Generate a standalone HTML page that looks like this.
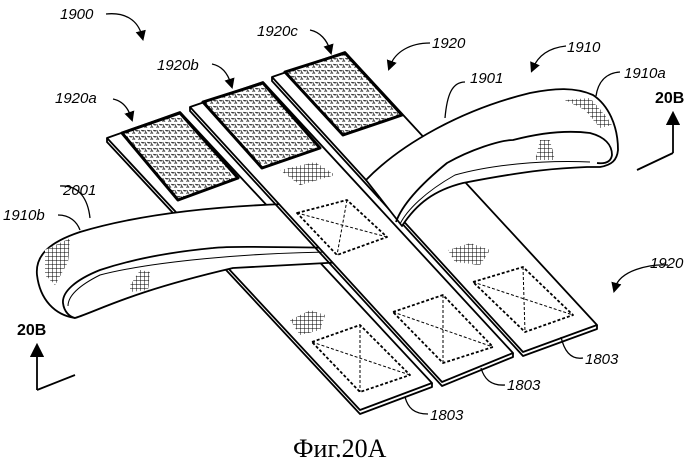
<!DOCTYPE html>
<html><head><meta charset="utf-8"><style>
html,body{margin:0;padding:0;background:#fff;}
svg{display:block}
.l{font-family:"Liberation Sans",sans-serif;font-style:italic;font-size:15px;fill:#000}
.b{font-family:"Liberation Sans",sans-serif;font-weight:bold;font-size:16px;fill:#000}
</style></head><body>
<svg width="699" height="468" viewBox="0 0 699 468" xmlns="http://www.w3.org/2000/svg">
<defs>
<pattern id="velcro" width="6" height="6" patternUnits="userSpaceOnUse">
<rect width="6" height="6" fill="#fff"/>
<path d="M0.5 1.5 q1.5 -1.5 2.5 0 M3.5 4 q1 1.5 2.5 0.5 M0.5 4.5 l1.5 1" stroke="#000" stroke-width="1" fill="none"/>
</pattern>
<pattern id="hatch" width="4" height="4" patternUnits="userSpaceOnUse">
<rect width="4" height="4" fill="#fff"/>
<path d="M0 0 H4 M0 0 V4" stroke="#000" stroke-width="1"/>
</pattern>
<marker id="ah" markerWidth="8" markerHeight="8" refX="4" refY="4" orient="auto">
<path d="M0 0 L8 4 L0 8 z" fill="#000"/>
</marker>
</defs>
<g stroke="#000" stroke-width="1.8" fill="#fff" stroke-linejoin="round">
<!-- Strip A -->
<polygon points="107,138 180,112 432,383 360,410"/>
<path d="M107,138 L107,142 L360,414 L432,387 L432,383" fill="none"/>
<polygon points="122,133 180,113 238,178 178,200" fill="url(#velcro)" stroke-width="3"/>
<polygon points="312,342 360,325 410,375 360,392" fill="none" stroke-dasharray="3,2"/>
<path d="M312,342 L410,375 M360,325 L360,392" fill="none" stroke-dasharray="3,2" stroke-width="1"/>
<polygon points="290,320 310,310 325,315 320,330 300,335" fill="url(#hatch)" stroke="none"/>
<polygon points="215,225 225,218 255,250 245,255" fill="url(#hatch)" stroke="none"/>
</g>
<!-- left band -->
<g stroke="#000" stroke-width="1.8" fill="#fff" stroke-linejoin="round">
<path d="M285,204 C200,207 130,217 80,232 C50,242 35,255 37,275 C40,300 55,315 75,318 C100,310 130,292 233,268 L345,262 L345,246 Z"/>
<path d="M345,248 C270,247 230,246 213,248 C170,252 130,260 100,270 C75,280 62,292 63,303 C64,312 70,317 75,318" fill="none"/>
<path d="M345,252 C250,252 150,262 100,275 C80,285 68,295 68,306" fill="none" stroke-width="1"/>
<polygon points="45,250 70,238 68,262 55,285 45,275" fill="url(#hatch)" stroke="none"/>
<polygon points="130,285 140,270 150,272 148,290 130,292" fill="url(#hatch)" stroke="none"/>
</g>
<!-- Strip B -->
<g stroke="#000" stroke-width="1.8" fill="#fff" stroke-linejoin="round">
<polygon points="190,107 263,82 513,353 442,382"/>
<path d="M190,107 L190,111 L442,386 L513,357 L513,353" fill="none"/>
<polygon points="203,102 263,83 320,148 262,168" fill="url(#velcro)" stroke-width="3"/>
<polygon points="297,213 347,200 387,237 337,255" fill="none" stroke-dasharray="3,2"/>
<path d="M297,213 L387,237 M347,200 L337,255" fill="none" stroke-dasharray="3,2" stroke-width="1"/>
<polygon points="393,312 443,295 493,347 443,363" fill="none" stroke-dasharray="3,2"/>
<path d="M393,312 L493,347 M443,295 L443,363" fill="none" stroke-dasharray="3,2" stroke-width="1"/>
<polygon points="280,170 315,162 335,175 300,185" fill="url(#hatch)" stroke="none"/>
<!-- Strip C -->
<polygon points="272,77 345,52 597,325 523,352"/>
<path d="M272,77 L272,81 L523,356 L597,329 L597,325" fill="none"/>
<polygon points="285,72 345,53 402,115 343,135" fill="url(#velcro)" stroke-width="3"/>
<polygon points="473,282 523,267 573,315 525,332" fill="none" stroke-dasharray="3,2"/>
<path d="M473,282 L573,315 M523,267 L525,332" fill="none" stroke-dasharray="3,2" stroke-width="1"/>
<polygon points="448,250 470,243 490,250 480,265 455,262" fill="url(#hatch)" stroke="none"/>
<polygon points="370,178 385,175 395,195 380,200" fill="url(#hatch)" stroke="none"/>
</g>
<!-- right band -->
<g stroke="#000" stroke-width="1.8" fill="#fff" stroke-linejoin="round">
<path d="M366,180 C400,145 460,110 530,93 C555,88 575,87 593,95 C608,105 618,125 618,150 C617,160 612,165 600,167 L587,167 C560,168 530,170 463,183 C435,190 417,203 402,226 Z"/>
<path d="M396,222 C402,205 420,185 447,163 C470,150 500,140 513,140 C540,133 567,130 590,133 C605,137 612,145 612,155 C611,162 605,164 597,163" fill="none"/>
<path d="M400,224 C407,210 425,192 455,175 C490,165 540,160 590,162" fill="none" stroke-width="1"/>
<polygon points="565,100 590,98 605,115 612,125 600,128 585,110" fill="url(#hatch)" stroke="none"/>
<polygon points="540,140 550,140 555,160 535,160" fill="url(#hatch)" stroke="none"/>
</g>
<!-- leaders -->
<g stroke="#000" stroke-width="1.3" fill="none">
<path d="M106,14 C125,12 138,20 142,36" marker-end="url(#ah)"/>
<path d="M310,30 C320,32 327,40 330,50" marker-end="url(#ah)"/>
<path d="M212,64 C222,66 228,74 231,84" marker-end="url(#ah)"/>
<path d="M113,99 C123,101 128,108 131,117" marker-end="url(#ah)"/>
<path d="M430,43 C410,43 395,52 390,66" marker-end="url(#ah)"/>
<path d="M566,46 C548,48 538,56 533,68" marker-end="url(#ah)"/>
<path d="M620,72 C605,73 598,83 596,96"/>
<path d="M465,82 C452,82 447,95 445,118"/>
<path d="M60,186 C80,185 88,200 90,218"/>
<path d="M58,215 C70,215 77,222 80,230"/>
<path d="M668,265 C650,264 620,270 615,288" marker-end="url(#ah)"/>
<path d="M583,358 C570,360 564,350 561,337"/>
<path d="M505,385 C490,386 484,378 481,368"/>
<path d="M428,414 C414,414 408,408 405,397"/>
<path d="M673,153 L673,118" stroke-width="1.8" marker-end="url(#ah)"/>
<path d="M673,153 L637,170" stroke-width="1.8"/>
<path d="M37,390 L37,350" stroke-width="1.8" marker-end="url(#ah)"/>
<path d="M37,390 L75,375" stroke-width="1.8"/>
</g>
<text class="l" x="60" y="19">1900</text>
<text class="l" x="257" y="36">1920c</text>
<text class="l" x="157" y="70">1920b</text>
<text class="l" x="55" y="103">1920a</text>
<text class="l" x="432" y="48">1920</text>
<text class="l" x="567" y="52">1910</text>
<text class="l" x="624" y="78">1910a</text>
<text class="b" x="655" y="103">20B</text>
<text class="l" x="470" y="83">1901</text>
<text class="l" x="63" y="195">2001</text>
<text class="l" x="3" y="220">1910b</text>
<text class="b" x="17" y="335">20B</text>
<text class="l" x="650" y="268">1920</text>
<text class="l" x="585" y="364">1803</text>
<text class="l" x="507" y="390">1803</text>
<text class="l" x="430" y="420">1803</text>
<text x="293" y="457" style="font-family:'Liberation Serif',serif;font-size:26px">Фиг.20A</text>
</svg>
</body></html>
